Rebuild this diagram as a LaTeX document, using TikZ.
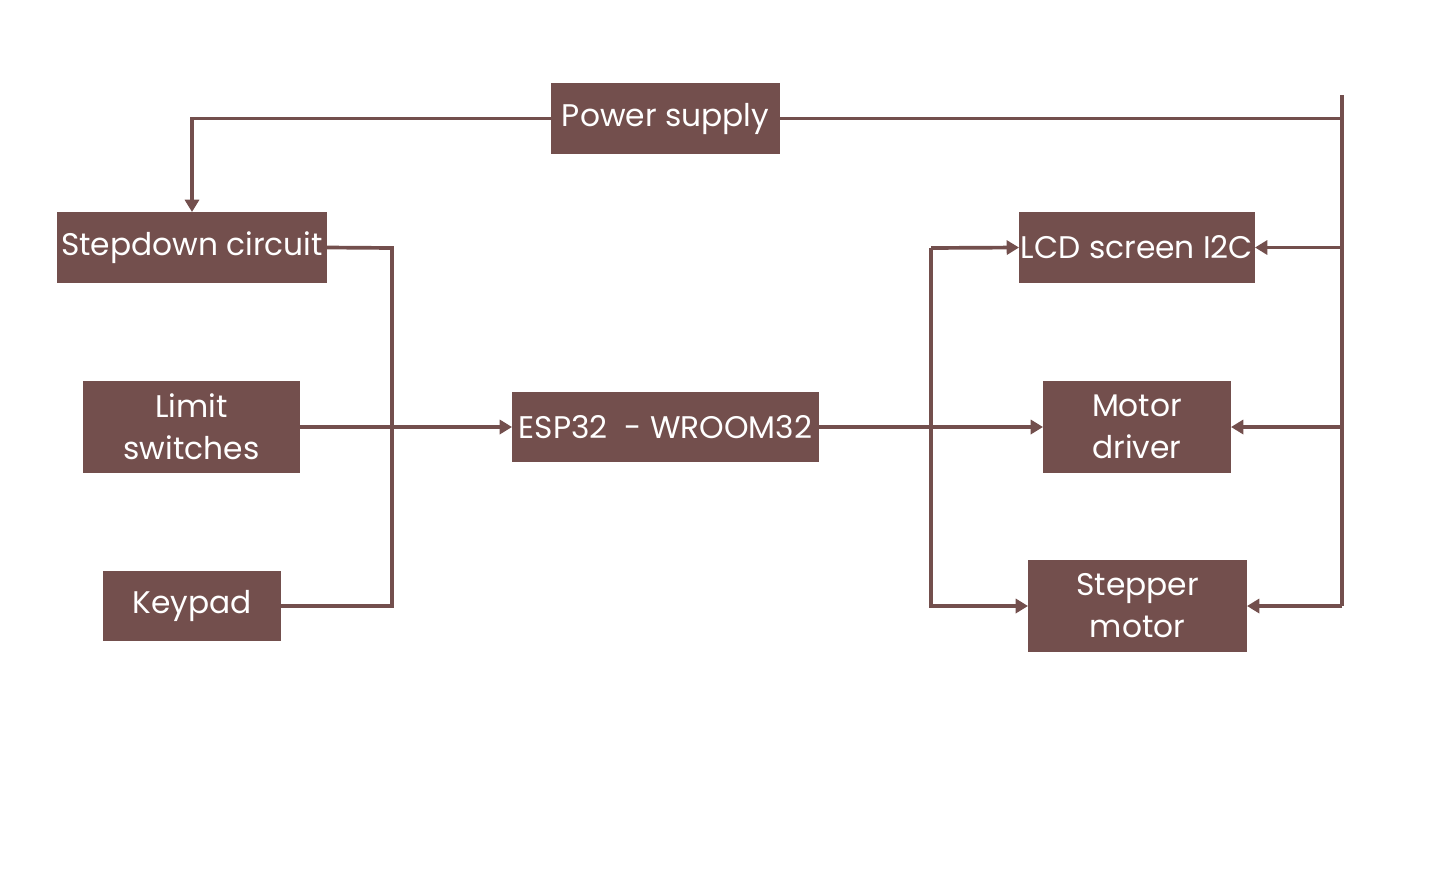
\documentclass[tikz,border=0pt]{standalone}
\usepackage{fontspec}
\setmainfont{Poppins}
\usepackage{xcolor}
\usetikzlibrary{arrows.meta, positioning}
\definecolor{boxbrown}{HTML}{734F4D}

\begin{document}
\begin{tikzpicture}[x=0.02cm, y=-0.02cm,
				>={Triangle[length=7pt, width=8pt]},
				line width=2.1pt,
				draw=boxbrown,
				block/.style={fill=boxbrown, text=white, inner sep=0pt, outer sep=0pt,
					font=\fontsize{17.8}{24}\selectfont, align=center}]
				\useasboundingbox (0,0) rectangle (1456,872);
				\node at (665.5,118.5) (power) [block, minimum width=229*0.02cm, minimum height=71*0.02cm] {Power supply};
				\node at (192,247.5) (step) [block, minimum width=270*0.02cm, minimum height=71*0.02cm] {Stepdown circuit};
				\node at (191.5,427) (limit) [block, minimum width=217*0.02cm, minimum height=92*0.02cm] {Limit\\switches};
				\node at (192,606) (keypad) [block, minimum width=178*0.02cm, minimum height=70*0.02cm] {Keypad};
				\node at (665.5,427) (esp) [block, minimum width=307*0.02cm, minimum height=70*0.02cm] {ESP32\ \ - WROOM32};
				\node at (1137,247.5) (lcd) [block, minimum width=236*0.02cm, minimum height=71*0.02cm] {LCD screen I2C};
				\node at (1137,427) (driver) [block, minimum width=188*0.02cm, minimum height=92*0.02cm] {Motor\\driver};
				\node at (1137.5,606) (stepper) [block, minimum width=219*0.02cm, minimum height=92*0.02cm] {Stepper\\motor};
				\coordinate (busTop) at (1342,95);
				\coordinate (busBot) at (1342,606);
				\coordinate (leftBus) at (392,248);
				\coordinate (midBus) at (931,248);
				% power lines
				\draw[->, boxbrown] (power.west) -| (step.north);
				\draw[boxbrown] (power.east) -- (power.east -| busTop);
				\draw[boxbrown] (busTop) -- (busBot);
				\draw[->, boxbrown] (lcd.east -| busTop) -- (lcd.east);
				\draw[->, boxbrown] (driver.east -| busTop) -- (driver.east);
				\draw[->, boxbrown] (busBot) -- (stepper.east);
				% inputs
				\draw[boxbrown] (step.east) -- (leftBus) |- (keypad.east);
				\draw[->, boxbrown] (limit.east) -- (esp.west);
				% outputs
				\draw[->, boxbrown] (esp.east) -- (driver.west);
				\draw[->, boxbrown] (midBus) -- (lcd.west);
				\draw[->, boxbrown] (midBus) |- (stepper.west);
			\end{tikzpicture}
\end{document}
